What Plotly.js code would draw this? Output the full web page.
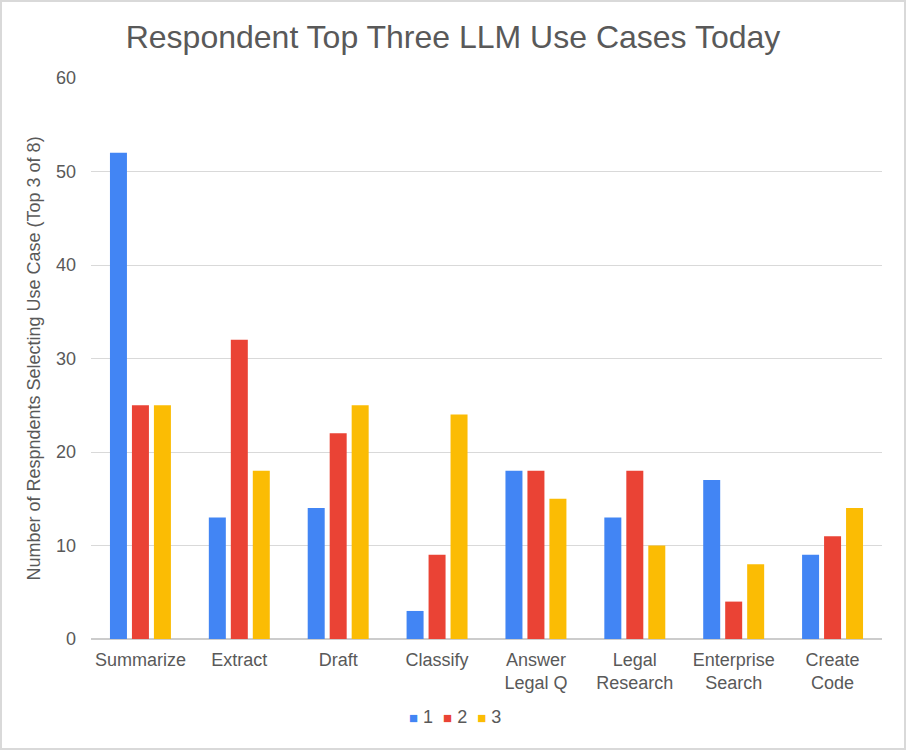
<!DOCTYPE html>
<html>
<head>
<meta charset="utf-8">
<script src="https://cdn.plot.ly/plotly-3.0.1.min.js"></script>
<style>
html,body{margin:0;padding:0;background:#fff;}
#wrap{position:relative;width:906px;height:750px;}
#chart{width:906px;height:750px;}
#border{position:absolute;left:0;top:0;width:902px;height:746px;border:2px solid #d9d9d9;pointer-events:none;}
</style>
</head>
<body>
<div id="wrap"><div id="chart"></div><div id="border"></div></div>
<script>
const categories = ["Summarize", "Extract", "Draft", "Classify", "Answer<br>Legal Q", "Legal<br>Research", "Enterprise<br>Search", "Create<br>Code"];
const seriesNames = ["1", "2", "3"];
const rank1 = [52, 13, 14, 3, 18, 13, 17, 9];
const rank2 = [25, 32, 22, 9, 18, 18, 4, 11];
const rank3 = [25, 18, 25, 24, 15, 10, 8, 14];
const yTicks = [0, 10, 20, 30, 40, 50, 60];
const colors = ["#4285F4", "#EA4335", "#FBBC04"];

const values = [rank1, rank2, rank3];
const traces = values.map((v, i) => ({
  type: "bar",
  name: seriesNames[i],
  x: categories,
  y: v,
  marker: {color: colors[i]},
  hoverinfo: "x+y+name"
}));

const FONT = "Liberation Sans, Arial, Helvetica, sans-serif";
const TXT = "#595959";

const legendText = seriesNames.map((n, i) =>
  `<span style="color:${colors[i]};font-size:15px">■</span>\u00a0${n}`
).join("\u00a0\u00a0");

const layout = {
  width: 906,
  height: 750,
  paper_bgcolor: "#ffffff",
  plot_bgcolor: "#ffffff",
  font: {family: FONT, color: TXT, size: 18},
  title: {
    text: "Respondent Top Three LLM Use Cases Today",
    font: {size: 32, color: TXT, family: FONT},
    xref: "container", x: 0.5, xanchor: "center", y: 0.951, yanchor: "middle"
  },
  margin: {l: 91, r: 24, t: 78, b: 111},
  barmode: "group",
  bargap: 0.333,
  bargroupgap: 0.227,
  xaxis: {
    type: "category",
    showgrid: false,
    showline: false,
    zeroline: false,
    ticks: "",
    ticklabelstandoff: 8,
    tickfont: {size: 18, color: TXT},
    automargin: false
  },
  yaxis: {
    range: [0, 60],
    tickvals: yTicks,
    ticktext: yTicks.map(String),
    showgrid: true,
    gridcolor: "#d9d9d9",
    gridwidth: 1,
    zeroline: true,
    zerolinecolor: "#cccccc",
    zerolinewidth: 2,
    showline: false,
    ticks: "",
    ticklabelstandoff: 14,
    tickfont: {size: 18, color: TXT},
    title: {text: "Number of Respndents Selecting Use Case (Top 3 of 8)", font: {size: 18, color: TXT}, standoff: 10},
    automargin: false
  },
  showlegend: false,
  annotations: [{
    xref: "paper", yref: "paper",
    x: (455 - 91) / 791, y: -0.139,
    xanchor: "center", yanchor: "middle",
    showarrow: false,
    text: legendText,
    font: {size: 18, color: TXT, family: FONT}
  }]
};

Plotly.newPlot("chart", traces, layout, {displayModeBar: false, staticPlot: true});
</script>
</body>
</html>
